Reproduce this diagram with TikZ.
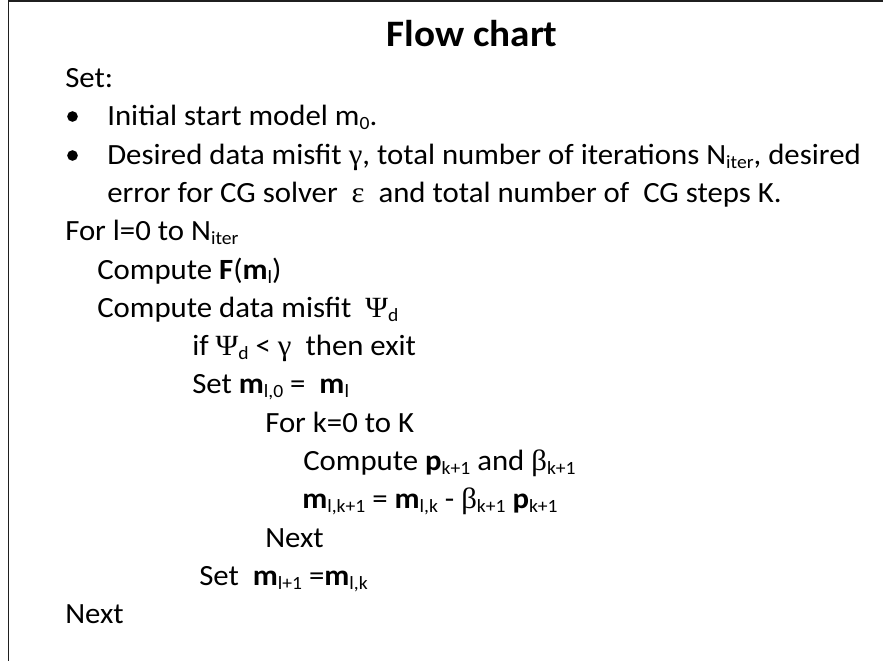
\documentclass[tikz,border=0pt]{standalone}
\usepackage{fontspec}
\setmainfont[FakeStretch=1.05]{Carlito}
\newfontfamily\grk[FakeStretch=1.05]{Liberation Serif}
% lowered, smaller text for indices
\newcommand\subsc[1]{\raisebox{-3.6pt}{\fontsize{14}{14}\selectfont #1}}
\begin{document}
\begin{tikzpicture}[x=0.75pt,y=-0.75pt,
  txt/.style={anchor=base west, inner sep=0pt, font=\fontsize{22}{26}\selectfont},
  heading/.style={anchor=base, inner sep=0pt, font=\fontsize{28}{32}\selectfont\bfseries},
  dot/.style={circle, fill=black, inner sep=0pt, minimum size=8pt},
  frame/.style={line width=1.4pt, draw=black!88}]
\useasboundingbox (0,0) rectangle (883,661);

% frame (left and top edges)
\coordinate (fbl) at (8.5,661);
\coordinate (ftl) at (8.5,1);
\coordinate (ftr) at (883,1);
\draw[frame] (fbl) -- (ftl) -- (ftr);

\node[heading] (title) at (472,46) {Flow chart};

\node[txt] (set) at (65,87) {Set:};
\node[dot] (b1) at (72.5,116.5) {};
\node[txt] (init) at (107,125) {Initial start model m\subsc{0}.};
\node[dot] (b2) at (72.5,155.5) {};
\node[txt] (desired) at (107,164) {Desired data misfit {\grk γ}, total number of iterations N\subsc{iter}, desired};
\node[txt] (error) at (107,202) {error for CG solver~ {\grk ε}~ and total number of~ CG steps K.};
\node[txt] (forl) at (65,240) {For l=0 to N\subsc{iter}};
\node[txt] (compF) at (97,279) {Compute \textbf{F}(\textbf{m}\subsc{l})};
\node[txt] (compPsi) at (97,317) {Compute data misfit~ {\grk Ψ}\subsc{d}};
\node[txt] (iftest) at (192,355) {if {\grk Ψ}\subsc{d} < {\grk γ}~ then exit};
\node[txt] (setinit) at (192,393) {Set \textbf{m}\subsc{l,0} =~ \textbf{m}\subsc{l}};
\node[txt] (fork) at (265,432) {For k=0 to K};
\node[txt] (compp) at (303,470) {Compute \textbf{p}\subsc{k+1} and {\grk β}\subsc{k+1}};
\node[txt] (update) at (302,508) {\textbf{m}\subsc{l,k+1} = \textbf{m}\subsc{l,k} - {\grk β}\subsc{k+1} \textbf{p}\subsc{k+1}};
\node[txt] (nextk) at (265,547) {Next};
\node[txt] (setnext) at (199,585) {Set~ \textbf{m}\subsc{l+1} =\textbf{m}\subsc{l,k}};
\node[txt] (nextl) at (65,623) {Next};
\end{tikzpicture}
\end{document}
